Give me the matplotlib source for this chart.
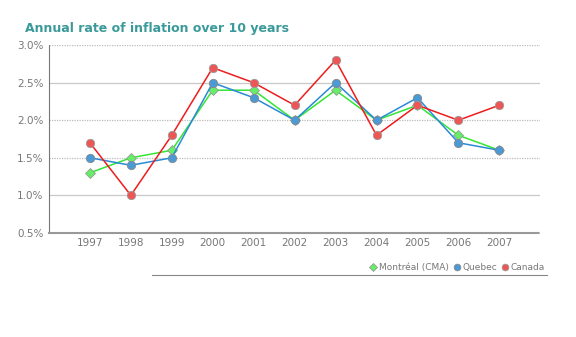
import matplotlib.pyplot as plt
from matplotlib.lines import Line2D
from matplotlib.ticker import FuncFormatter

# =========================
# data
# =========================
years = [1997, 1998, 1999, 2000, 2001, 2002, 2003, 2004, 2005, 2006, 2007]
montreal = [1.3, 1.5, 1.6, 2.4, 2.4, 2.0, 2.4, 2.0, 2.2, 1.8, 1.6]
quebec = [1.5, 1.4, 1.5, 2.5, 2.3, 2.0, 2.5, 2.0, 2.3, 1.7, 1.6]
canada = [1.7, 1.0, 1.8, 2.7, 2.5, 2.2, 2.8, 1.8, 2.2, 2.0, 2.2]

yticks = [0.5, 1.0, 1.5, 2.0, 2.5, 3.0]

# =========================
# plot
# =========================
fig = plt.figure(figsize=(5.76, 3.37), dpi=100)
ax = fig.add_axes([0.085, 0.309, 0.853, 0.557])

ax.plot(years, montreal, color="#33e633", lw=1.1, marker="D", ms=5,
        mfc="#66ee66", mec="#999999", mew=0.6, label="Montréal (CMA)", zorder=3)
ax.plot(years, quebec, color="#2a8ad6", lw=1.1, marker="o", ms=6,
        mfc="#4a9ad6", mec="#888888", mew=0.6, label="Quebec", zorder=4)
ax.plot(years, canada, color="#ee1c1c", lw=1.1, marker="o", ms=6,
        mfc="#ee5555", mec="#999999", mew=0.6, label="Canada", zorder=5)

ax.set_xlim(1996, 2008)
ax.set_ylim(0.5, 3.0)
ax.set_xticks(years)
ax.set_yticks(yticks)
ax.yaxis.set_major_formatter(FuncFormatter(lambda v, p: f"{v:.1f}%"))

# grid
for y in yticks:
    if y in (1.0, 2.5):
        ax.axhline(y, color="#c8c8c8", lw=0.9, zorder=1)
    elif y != 0.5:
        ax.axhline(y, color="#bbbbbb", lw=0.9, ls=(0, (1, 1)), zorder=1)

for s in ["top", "right"]:
    ax.spines[s].set_visible(False)
ax.spines["left"].set_color("#777777")
ax.spines["left"].set_linestyle((0, (1, 1)))
ax.spines["bottom"].set_color("#999999")
ax.spines["bottom"].set_linestyle((0, (1, 1)))
ax.spines["bottom"].set_linewidth(1.5)

ax.tick_params(length=0, colors="#777777", labelsize=7.5, pad=4)

fig.text(0.043, 0.905, "Annual rate of inflation over 10 years",
         color="#3a9a9a", fontsize=9, fontweight="bold")

fig.legend(loc="center right", bbox_to_anchor=(0.96, 0.205), ncol=3,
           frameon=False, fontsize=6.5, handlelength=0.6, handletextpad=0.3,
           columnspacing=0.6, labelcolor="#777777", markerscale=0.8)
for h in fig.legends[0].legend_handles:
    h.set_linestyle("none")

fig.add_artist(Line2D([0.264, 0.95], [0.184, 0.184], color="#888888",
                      lw=0.8, transform=fig.transFigure))

plt.savefig("out.png", dpi=100)
plt.close()
